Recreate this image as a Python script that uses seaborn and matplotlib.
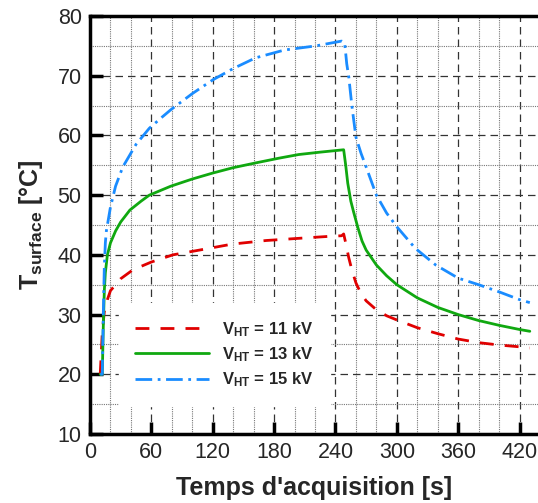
import numpy as np
import pandas as pd
import matplotlib
matplotlib.use('Agg')
import matplotlib.pyplot as plt
from matplotlib.ticker import MultipleLocator
import seaborn as sns

# values
t_11 = [10, 12, 14, 17, 20, 30, 42, 60, 81, 107, 139, 172, 207, 234, 246, 248, 250, 253, 256,
        260, 265, 270, 280, 290, 300, 320, 340, 360, 380, 400, 420, 430]
T_11 = [20, 27, 30.5, 32.5, 34, 36, 37.5, 38.8, 40, 40.8, 41.8, 42.4, 42.8, 43.1, 43.2, 43.5, 42,
        39.5, 37.5, 35.3, 33.5, 32.3, 30.8, 29.8, 29.1, 27.8, 26.8, 25.9, 25.3, 24.9, 24.6, 24.4]

t_13 = [10, 12, 13, 14, 15, 17, 20, 25, 30, 39, 50, 58, 79, 100, 120, 140, 162, 185, 204, 225,
        248, 250, 252, 255, 258, 262, 266, 270, 280, 290, 300, 320, 340, 360, 380, 400, 420, 430]
T_13 = [20, 20, 28, 34, 37, 40, 42, 44, 45.5, 47.5, 49, 50, 51.5, 52.7, 53.7, 54.6, 55.4, 56.2,
        56.8, 57.2, 57.6, 55, 52, 49, 47, 44.5, 42.3, 40.8, 38.3, 36.5, 35, 32.8, 31.2, 30, 29,
        28.2, 27.5, 27.2]

t_15 = [10, 12, 13, 14, 15, 16, 18, 20, 25, 32, 45, 58, 70, 79, 100, 120, 140, 162, 190, 221,
        246, 249, 251, 253, 256, 260, 265, 270, 280, 290, 300, 318, 338, 360, 380, 400, 420, 430]
T_15 = [20, 20, 30, 38, 42, 44, 46, 48, 51.5, 54.7, 58.5, 61.2, 63, 64.3, 67, 69.3, 71.2, 73,
        74.3, 75, 75.8, 75.5, 72, 69.8, 65, 59.7, 57, 54.7, 50, 47, 44.7, 41.1, 38.3, 36.1, 35,
        33.8, 32.5, 32]

labels = [r'$\mathbf{V_{HT}}$ = 11 kV', r'$\mathbf{V_{HT}}$ = 13 kV', r'$\mathbf{V_{HT}}$ = 15 kV']
colors = ['#e00000', '#10a810', '#1a8cff']
styles = [(0, (5, 4)), '-', (0, (6, 2, 1, 2))]

sns.set_style('white')
plt.rcParams['font.family'] = ['Liberation Sans', 'DejaVu Sans']
plt.rcParams['mathtext.fontset'] = 'custom'
plt.rcParams['mathtext.rm'] = 'Liberation Sans:bold'
plt.rcParams['mathtext.bf'] = 'Liberation Sans:bold'
plt.rcParams['mathtext.it'] = 'Liberation Sans:bold'

fig = plt.figure(figsize=(5.38, 5.03), dpi=100)
ax = fig.add_axes([90 / 538, 1 - 434 / 503, 448 / 538, 418 / 503])

for t, T, lab, c, ls in zip([t_11, t_13, t_15], [T_11, T_13, T_15], labels, colors, styles):
    sns.lineplot(x=t, y=T, ax=ax, color=c, linestyle=ls, linewidth=2, label=lab, sort=False)

ax.set_xlim(0, 438)
ax.set_ylim(10, 80)
ax.xaxis.set_major_locator(MultipleLocator(60))
ax.xaxis.set_minor_locator(MultipleLocator(20))
ax.yaxis.set_major_locator(MultipleLocator(10))
ax.yaxis.set_minor_locator(MultipleLocator(5))

ax.grid(which='major', color='#333333', linestyle=(0, (6, 4)), linewidth=0.9)
ax.grid(which='minor', color='#777777', linestyle=(0, (1, 1)), linewidth=0.8)
ax.set_axisbelow(True)

ax.tick_params(which='major', direction='in', length=9, width=2.5, labelsize=15.5,
               color='black', bottom=True, left=True, pad=6)
ax.tick_params(which='minor', length=0)

for side in ['left', 'bottom', 'top']:
    ax.spines[side].set_linewidth(2.5)
    ax.spines[side].set_color('black')
ax.spines['right'].set_visible(False)

ax.set_xlabel("Temps d'acquisition [s]", fontsize=18, fontweight='bold', labelpad=9)
ax.set_ylabel(r'T$_{\mathbf{surface}}$ [°C]', fontsize=18, fontweight='bold', labelpad=9)

leg = ax.legend(loc='center', bbox_to_anchor=(0.30, 0.19), fontsize=12, frameon=True,
                fancybox=False, edgecolor='white', facecolor='white', framealpha=1,
                handlelength=4.4, handletextpad=0.8, labelspacing=0.4, borderpad=1.0)
for txt in leg.get_texts():
    txt.set_fontweight('bold')

fig.savefig('out.png', dpi=100)
